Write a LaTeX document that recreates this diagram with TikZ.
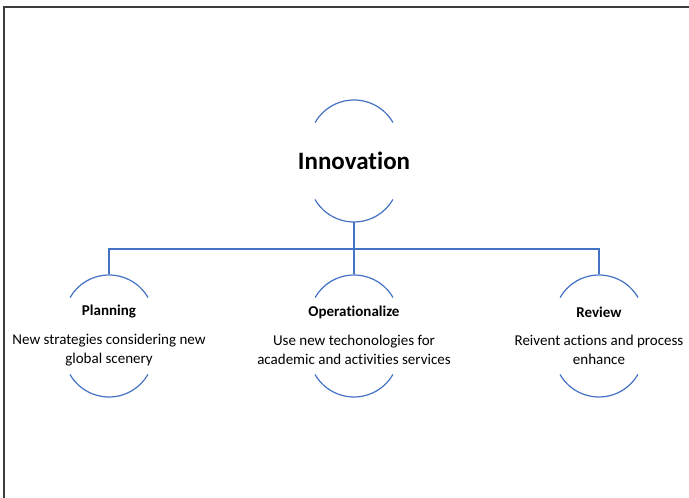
\documentclass[tikz,border=0pt]{standalone}
\usepackage{fontspec}
\setmainfont{Carlito}[Ligatures={NoCommon}]
\usepackage{tikz}
\usetikzlibrary{calc}
\usetikzlibrary{positioning}
\definecolor{linkblue}{RGB}{68,114,196}
\definecolor{framegray}{RGB}{60,60,60}
\tikzset{
	linkline/.style={draw=linkblue,line width=1.2pt},
	titlestyle/.style={font=\fontsize{25}{28}\selectfont\bfseries,inner sep=0pt},
	headstyle/.style={font=\fontsize{15}{18}\selectfont\bfseries,inner sep=0pt},
	textstyle/.style={font=\fontsize{15}{19}\selectfont,align=center,inner sep=0pt},
	ringarcs/.pic={
		\draw[linkline] (39,38.5) arc (30:150:45);
		\draw[linkline] (-39,-38.5) arc (210:330:45);
	}
}

\begin{document}
\begin{tikzpicture}[x=1pt,y=1pt]
	\useasboundingbox (0,0) rectangle (689,498);
	\draw[framegray,line width=2pt] (4,0) -- (4,491) -- (689,491);
	% main idea
	\pic at (354,337) {ringarcs};
	\node[titlestyle] (innov) at (354,337) {Innovation};
	\coordinate (innov bot) at (354,276);
	% three stages
	\pic at (109,162) {ringarcs};
	\pic at (354,162) {ringarcs};
	\pic at (599,162) {ringarcs};
	\node[headstyle] (plan) at (109,186) {Planning};
	\node[headstyle] (oper) at (354,186) {Operationalize};
	\node[headstyle] (rev) at (599,186) {Review};
	\node[textstyle] (plantext) at (109,148) {New strategies considering new\\global scenery};
	\node[textstyle] (opertext) at (354,148) {Use new techonologies for\\academic and activities services};
	\node[textstyle] (revtext) at (599,148) {Reivent actions and process\\enhance};
	\coordinate (plan top) at (109,224);
	\coordinate (oper top) at (354,224);
	\coordinate (rev top) at (599,224);
	\coordinate (bar) at (354,249);
	\draw[linkline] (innov bot) -- (bar);
	\draw[linkline] (bar) -- (oper top);
	\draw[linkline] (plan top) |- (bar) -| (rev top);
\end{tikzpicture}
\end{document}
